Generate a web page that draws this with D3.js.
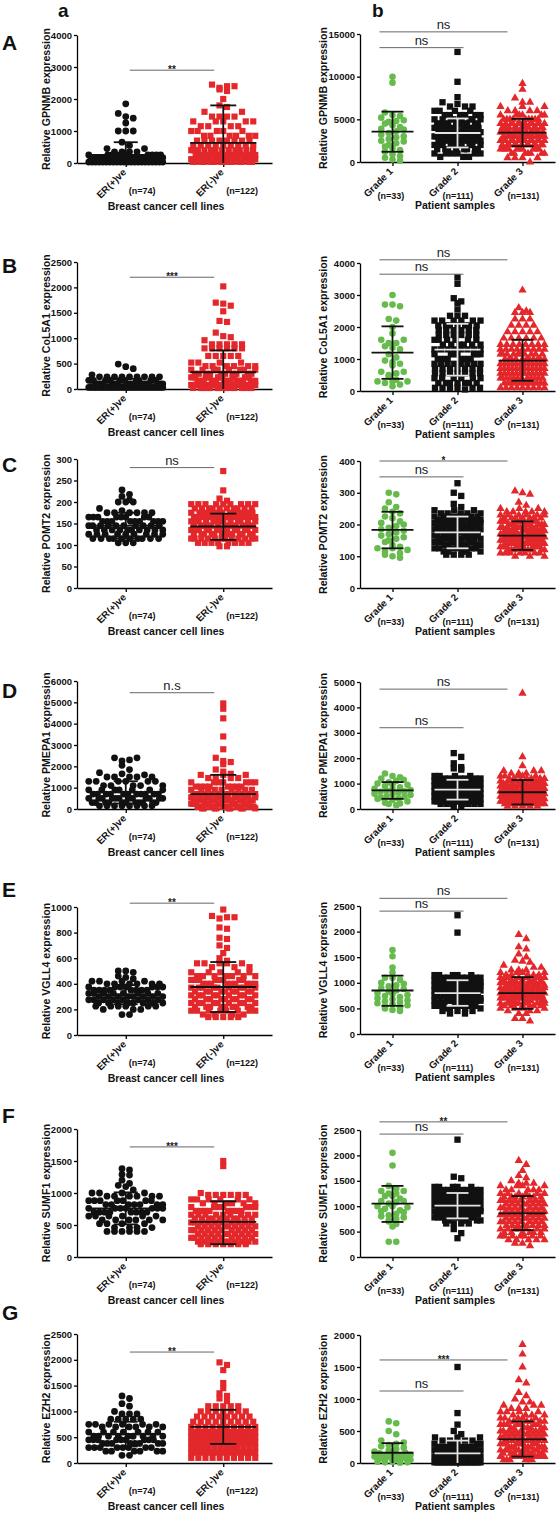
<!DOCTYPE html>
<html><head><meta charset="utf-8">
<script src="https://cdn.jsdelivr.net/npm/d3@7"></script>
<style>body{margin:0;background:#fff} svg{display:block} text{font-family:"Liberation Sans",Arial,sans-serif}</style>
</head><body>
<svg id="c" width="557" height="1528"></svg>
<script>
// ---------- categories & labels ----------
const leftCats = ["ER(+)ve", "ER(-)ve"];
const leftN = ["(n=74)", "(n=122)"];
const rightCats = ["Grade 1", "Grade 2", "Grade 3"];
const rightN = ["(n=33)", "(n=111)", "(n=131)"];
const genes = ["GPNMB", "CoL5A1", "POMT2", "PMEPA1", "VGLL4", "SUMF1", "EZH2"];
const rowLetters = ["A", "B", "C", "D", "E", "F", "G"];
const leftMax = [4000, 2500, 300, 6000, 1000, 2000, 2500];
const leftStep = [1000, 500, 50, 1000, 200, 500, 500];
const rightMax = [15000, 4000, 400, 5000, 2500, 2500, 2000];
const rightStep = [5000, 1000, 100, 1000, 500, 500, 500];

// ---------- data: [value, count] or single value ----------
const gpnmbErPos = [[1850,1],[1550,1],[1450,1],[1400,1],[1250,1],[1000,3],[650,1],[550,1],[450,2],[350,4],[250,10],[170,12],[100,14],[30,22]];
const gpnmbErNeg = [[2450,1],[2400,2],[2350,1],[2300,1],[2250,1],[2000,1],[1800,1],[1750,1],[1600,2],[1450,4],[1300,5],[1150,4],[1000,5],[850,6],[700,8],[550,9],[400,12],[250,18],[120,20],[40,20]];
const gpnmbG1 = [10000,9300,5800,5500,5400,5200,4900,4800,4700,4500,4300,4100,3900,3800,3600,3400,3200,3000,2900,2700,2500,2400,2200,2000,1800,1600,1400,1200,900,700,500,300,150];
const gpnmbG2 = [[12900,1],[9400,1],[7600,1],[7000,1],[6800,1],[6500,3],[6000,4],[5500,6],[5000,8],[4500,10],[4000,12],[3500,12],[3000,12],[2500,12],[2000,10],[1500,8],[1000,6],[600,3]];
const gpnmbG3 = [[9200,1],[8500,1],[7500,1],[7000,2],[6500,3],[6000,4],[5500,6],[5000,9],[4500,12],[4000,14],[3500,15],[3000,15],[2500,14],[2000,12],[1500,10],[1000,7],[500,4],[0,1]];

const col5a1ErPos = [[490,1],[440,1],[400,1],[280,1],[240,9],[170,14],[100,18],[30,29]];
const col5a1ErNeg = [[2020,1],[1700,1],[1680,1],[1640,1],[1530,1],[1340,1],[1320,1],[1110,1],[1040,1],[1020,1],[960,1],[880,5],[800,6],[650,5],[520,4],[450,6],[380,8],[300,10],[230,14],[160,18],[80,20],[20,15]];
const col5a1G1 = [3000,2700,2700,2650,2250,2200,2000,1800,1600,1600,1500,1500,1400,1350,1300,1150,1050,950,900,850,800,600,600,550,500,450,350,300,300,300,250,200,150];
const col5a1G2 = [[3550,1],[3350,1],[2900,1],[2800,1],[2750,1],[2550,1],[2350,3],[2200,6],[2050,7],[1900,6],[1750,6],[1600,6],[1450,6],[1300,8],[1150,7],[1000,8],[850,8],[700,7],[550,7],[400,6],[250,7],[100,6],[50,1]];
const col5a1G3 = [[3150,1],[2600,1],[2500,1],[2450,3],[2250,3],[2050,4],[1850,5],[1650,6],[1450,8],[1300,9],[1150,10],[1000,11],[850,12],[700,12],[550,12],[400,12],[250,12],[100,9]];

const pomt2ErPos = [[228,1],[218,1],[213,1],[205,1],[200,3],[185,1],[180,1],[175,6],[165,8],[155,9],[145,10],[135,10],[125,9],[115,10],[105,3]];
const pomt2ErNeg = [[272,1],[227,1],[208,1],[203,1],[195,9],[185,10],[175,11],[165,13],[155,13],[145,14],[135,13],[125,13],[115,12],[105,8],[97,2]];
const pomt2G1 = [300,295,270,255,250,240,235,225,220,210,205,200,195,190,185,180,175,170,165,160,155,150,145,135,130,125,125,120,115,110,105,100,95];
const pomt2G2 = [[330,1],[300,1],[290,1],[265,1],[255,1],[245,3],[235,5],[225,7],[215,9],[205,10],[195,9],[185,9],[175,9],[165,8],[155,8],[145,7],[135,7],[125,6],[115,5],[105,4]];
const pomt2G3 = [[305,1],[300,1],[295,1],[270,1],[260,1],[250,3],[240,5],[230,6],[220,7],[210,8],[200,9],[190,10],[180,11],[170,10],[160,10],[150,10],[140,10],[130,9],[120,8],[110,7],[100,3]];

const pmepa1ErPos = [[2400,2],[2300,1],[2250,1],[2050,1],[1850,1],[1700,1],[1650,1],[1600,1],[1500,5],[1300,6],[1100,5],[900,7],[700,11],[500,12],[300,11],[150,8]];
const pmepa1ErNeg = [[4950,1],[4700,1],[4250,1],[3400,1],[2800,1],[2400,1],[2250,1],[2200,1],[2100,1],[1850,1],[1750,1],[1650,1],[1600,3],[1450,4],[1250,7],[1050,8],[900,9],[700,11],[550,12],[400,14],[250,16],[100,17],[30,9]];
const pmepa1G1 = [1400,1300,1250,1200,1150,1100,1050,1000,950,950,900,850,800,780,750,720,700,680,650,600,580,550,500,480,450,420,400,350,300,250,220,200,150];
const pmepa1G2 = [[2200,1],[2050,1],[1800,1],[1650,1],[1600,1],[1550,1],[1300,4],[1200,6],[1100,8],[1000,9],[900,10],[800,10],[700,10],[600,10],[500,10],[400,10],[300,9],[200,7],[100,2]];
const pmepa1G3 = [[4550,1],[2050,1],[1700,1],[1500,3],[1400,3],[1300,5],[1200,6],[1100,7],[1000,9],[900,10],[800,11],[700,12],[600,12],[500,12],[400,12],[300,11],[200,10],[100,5]];

const vgll4ErPos = [[500,2],[490,1],[460,1],[450,1],[440,1],[420,4],[400,6],[375,7],[350,8],[325,8],[300,8],[275,8],[250,8],[225,6],[200,3],[160,2]];
const vgll4ErNeg = [[980,1],[930,1],[920,2],[910,1],[840,1],[830,1],[760,1],[750,1],[700,1],[680,1],[640,1],[600,1],[580,1],[560,5],[530,3],[490,5],[460,7],[430,8],[400,9],[370,9],[340,9],[310,9],[280,9],[250,9],[220,9],[190,8],[160,4],[140,5]];
const vgll4G1 = [1640,1520,1300,1200,1100,1100,1060,1000,980,950,930,900,880,850,830,800,780,760,740,720,700,680,660,640,620,600,580,560,540,520,500,470,450];
const vgll4G2 = [[2320,1],[1980,1],[1150,5],[1100,6],[1050,8],[1000,8],[950,9],[900,9],[850,9],[800,9],[750,8],[700,8],[650,8],[600,7],[550,6],[500,4],[450,3],[400,2]];
const vgll4G3 = [[1940,1],[1860,1],[1700,1],[1660,1],[1560,1],[1500,1],[1440,1],[1420,1],[1400,1],[1340,1],[1300,2],[1250,3],[1200,4],[1150,5],[1100,6],[1050,7],[1000,8],[950,8],[900,9],[850,9],[800,9],[750,9],[700,9],[650,8],[600,7],[550,6],[500,4],[450,3],[400,2],[300,2],[250,1]];

const sumf1ErPos = [[1380,1],[1360,1],[1290,1],[1280,1],[1200,1],[1150,1],[1120,1],[1100,1],[1050,1],[1000,4],[950,6],[880,7],[820,7],[760,7],[700,8],[640,6],[580,6],[520,4],[460,4],[400,6]];
const sumf1ErNeg = [[1500,1],[1420,1],[1000,1],[970,6],[900,6],[840,6],[780,7],[720,8],[660,9],[600,10],[540,10],[480,10],[420,10],[360,10],[300,10],[240,10],[200,7]];
const sumf1G1 = [2050,1800,1400,1350,1300,1300,1250,1250,1200,1200,1150,1100,1100,1080,1050,1000,1000,980,950,920,900,880,850,820,800,780,750,720,700,650,600,300,300];
const sumf1G2 = [[2310,1],[1580,1],[1550,1],[1380,5],[1320,6],[1260,8],[1200,9],[1140,10],[1080,10],[1020,10],[960,10],[900,10],[840,9],[780,8],[720,6],[660,4],[550,1],[470,1],[370,1]];
const sumf1G3 = [[1900,1],[1820,1],[1700,1],[1600,1],[1560,1],[1500,1],[1450,3],[1400,4],[1320,5],[1250,6],[1180,7],[1110,8],[1040,8],[970,8],[900,8],[830,8],[760,8],[690,8],[620,8],[550,7],[480,6],[410,7],[340,5],[270,2],[220,1]];

const ezh2ErPos = [[1300,1],[1250,1],[1150,1],[1100,1],[1000,1],[950,3],[850,5],[750,6],[700,6],[600,7],[520,9],[450,9],[380,8],[300,8],[230,6],[150,2]];
const ezh2ErNeg = [[1950,1],[1900,1],[1800,1],[1550,1],[1450,1],[1350,1],[1300,1],[1250,1],[1200,1],[1100,5],[1000,7],[900,8],[800,9],[700,10],[600,13],[500,13],[400,13],[300,12],[200,13],[100,10]];
const ezh2G1 = [650,620,500,450,350,320,300,280,260,240,220,200,180,170,160,150,140,130,120,110,100,90,80,70,60,50,40,30,20,20,10,10,5];
const ezh2G2 = [[1500,1],[780,1],[600,1],[500,1],[450,1],[400,3],[350,4],[300,6],[250,9],[200,12],[150,15],[100,18],[50,20],[10,19]];
const ezh2G3 = [[1850,1],[1700,1],[1500,1],[1300,1],[1250,1],[1100,1],[1050,1],[1000,1],[950,2],[900,3],[850,3],[800,4],[750,4],[700,5],[650,6],[600,7],[550,7],[500,8],[450,8],[400,8],[350,8],[300,8],[250,9],[200,9],[150,9],[100,9],[50,6]];

// ---------- mean, SD low, SD high ----------
const leftStats = [
  [[250,0,650],[630,0,1800]],
  [[90,0,200],[330,0,760]],
  [[145,115,175],[143,112,173]],
  [[780,260,1300],[700,0,1600]],
  [[315,240,390],[375,180,570]],
  [[760,510,1010],[550,200,870]],
  [[560,320,800],[700,370,1030]]
];
const rightStats = [
  [[3550,1200,5900],[3400,1700,5100],[3450,1850,5050]],
  [[1200,380,2020],[1290,480,2100],[950,320,1600]],
  [[183,125,240],[175,125,225],[165,120,210]],
  [[730,400,1060],[760,370,1150],[660,180,1140]],
  [[850,550,1140],[800,550,1050],[800,490,1110]],
  [[1050,690,1400],[1010,760,1260],[860,530,1200]],
  [[160,0,310],[150,0,350],[370,100,650]]
];
// significance: [fromIndex, toIndex, yValue, label]
const leftSig = [
  [[0,1,2900,"**"]], [[0,1,2200,"***"]], [[0,1,280,"ns"]], [[0,1,5450,"n.s"]],
  [[0,1,1030,"**"]], [[0,1,1720,"***"]], [[0,1,2150,"**"]]
];
const rightSig = [
  [[0,2,15250,"ns"],[0,1,13400,"ns"]],
  [[0,2,4100,"ns"],[0,1,3650,"ns"]],
  [[0,2,400,"*"],[0,1,350,"ns"]],
  [[0,2,4720,"ns"],[0,1,3200,"ns"]],
  [[0,2,2650,"ns"],[0,1,2400,"ns"]],
  [[0,2,2660,"**"],[0,1,2420,"ns"]],
  [[0,2,1610,"***"],[0,1,1125,"ns"]]
];
const leftData = [[gpnmbErPos,gpnmbErNeg],[col5a1ErPos,col5a1ErNeg],[pomt2ErPos,pomt2ErNeg],[pmepa1ErPos,pmepa1ErNeg],[vgll4ErPos,vgll4ErNeg],[sumf1ErPos,sumf1ErNeg],[ezh2ErPos,ezh2ErNeg]];
const rightData = [[gpnmbG1,gpnmbG2,gpnmbG3],[col5a1G1,col5a1G2,col5a1G3],[pomt2G1,pomt2G2,pomt2G3],[pmepa1G1,pmepa1G2,pmepa1G3],[vgll4G1,vgll4G2,vgll4G3],[sumf1G1,sumf1G2,sumf1G3],[ezh2G1,ezh2G2,ezh2G3]];

// ---------- layout ----------
const RED = "#e3272b", GREEN = "#66bb4c", BLK = "#111";
const leftX = [77, 272], rightX = [360, 555];
const leftTop = [35,262,459,681,907,1129,1334], leftBot = [163,389,588,809,1035,1257,1463];
const rightTop = [34,263,461,682,906,1130,1335], rightBot = [162,391,588,809,1034,1257,1463];
const letterY = [50,273,472,698,897,1123,1320];
const leftStyle = [
  {sym:d3.symbolCircle, size:36, fill:BLK, half:37, line:BLK, lineHalf:37, cap:12},
  {sym:d3.symbolSquare, size:38, fill:RED, half:32, line:BLK, lineHalf:33, cap:13}
];
const rightStyle = [
  {sym:d3.symbolCircle, size:34, fill:GREEN, half:18, line:BLK, lineHalf:21, cap:11},
  {sym:d3.symbolSquare, size:40, fill:BLK, half:23, line:"#e4e4e4", lineHalf:23, cap:11},
  {sym:d3.symbolTriangle, size:30, fill:RED, half:22, line:BLK, lineHalf:24, cap:11}
];

const svg = d3.select("#c");
const expand = arr => arr.flatMap(d => Array.isArray(d) ? d3.range(d[1]).map(() => d[0]) : [d]);
function gcd(a,b){ return b ? gcd(b, a % b) : a; }

function swarm(vals, y, cx, halfW, mk) {
  const pts = vals.map(v => ({v, py: y(v)})).sort((a,b) => a.py - b.py);
  const rows = []; let cur = null;
  for (const p of pts) {
    if (cur && p.py - cur.y0 < mk * 0.8) cur.items.push(p);
    else { cur = {y0: p.py, items: [p]}; rows.push(cur); }
  }
  rows.forEach(r => {
    const n = r.items.length;
    const s = n > 1 ? Math.min(mk + 1.5, 2 * halfW / (n - 1)) : 0;
    let stride = Math.max(1, Math.round(n * 0.38));
    while (n > 1 && gcd(stride, n) !== 1) stride++;
    r.items.forEach((p, i) => {
      const slot = n > 1 ? (i * stride) % n : 0;
      p.px = cx + (slot - (n - 1) / 2) * s;
    });
  });
  return pts;
}

function panel(o) {
  const x = d3.scalePoint().domain(o.cats).range(o.xr).padding(0.5);
  const y = d3.scaleLinear().domain([0, o.max]).range([o.bot, o.top]);
  const g = svg.append("g");
  // y axis
  const ya = g.append("g").attr("transform", `translate(${o.xr[0]},0)`)
    .call(d3.axisLeft(y).tickValues(d3.range(0, o.max + 1, o.step)).tickFormat(d3.format("d"))
      .tickSize(3).tickSizeOuter(0).tickPadding(2));
  ya.selectAll("path,line").attr("stroke", "#000").attr("stroke-width", 1.3);
  ya.selectAll("text").attr("font-size", 9.5).attr("font-weight", "bold").attr("fill", "#111")
    .attr("font-family", "Liberation Sans, Arial, sans-serif");
  // x axis
  const xa = g.append("g").attr("transform", `translate(0,${o.bot})`)
    .call(d3.axisBottom(x).tickSize(4).tickSizeOuter(0).tickFormat(""));
  xa.selectAll("path,line").attr("stroke", "#000").attr("stroke-width", 1.3);
  // category labels
  o.cats.forEach((c, i) => {
    const cx = x(c);
    g.append("text").attr("transform", `translate(${cx + 1},${o.bot + 10}) rotate(-45)`)
      .attr("text-anchor", "end").attr("font-size", 9.8).attr("font-weight", "bold").attr("fill", "#111").text(c);
    g.append("text").attr("x", cx + o.nDx).attr("y", o.bot + o.nDy)
      .attr("font-size", 9).attr("font-weight", "bold").attr("fill", "#111").text(o.nLabels[i]);
  });
  // axis titles
  g.append("text").attr("transform", `translate(${o.titleX},${(o.top + o.bot) / 2}) rotate(-90)`)
    .attr("text-anchor", "middle").attr("font-size", 10.6).attr("font-weight", "bold").attr("fill", "#111")
    .text(`Relative ${o.gene} expression`);
  g.append("text").attr("x", o.xTitleX).attr("y", o.bot + 47).attr("text-anchor", "middle")
    .attr("font-size", 10.5).attr("font-weight", "bold").attr("fill", "#111").text(o.xTitle);
  // points
  o.groups.forEach((grp, i) => {
    const st = o.style[i];
    const pts = swarm(expand(grp), y, x(o.cats[i]), st.half, 6);
    g.append("g").selectAll("path").data(pts).join("path")
      .attr("transform", p => `translate(${p.px},${p.py})`)
      .attr("d", d3.symbol().type(st.sym).size(st.size)())
      .attr("fill", st.fill);
  });
  // mean & SD
  o.stats.forEach((s, i) => {
    const st = o.style[i], cx = x(o.cats[i]);
    const [m, lo, hi] = s;
    const lg = g.append("g").attr("stroke", st.line).attr("stroke-width", 1.8).attr("fill", "none");
    lg.append("line").attr("x1", cx - st.lineHalf).attr("x2", cx + st.lineHalf).attr("y1", y(m)).attr("y2", y(m));
    lg.append("line").attr("x1", cx).attr("x2", cx).attr("y1", y(lo)).attr("y2", y(hi));
    lg.append("line").attr("x1", cx - st.cap).attr("x2", cx + st.cap).attr("y1", y(hi)).attr("y2", y(hi));
    if (lo > 0) lg.append("line").attr("x1", cx - st.cap).attr("x2", cx + st.cap).attr("y1", y(lo)).attr("y2", y(lo));
  });
  // significance bars
  o.sig.forEach(([a, b, v, lab]) => {
    const x1 = x(o.cats[a]) + o.sigOffA;
    const x2 = x(o.cats[b]) + (b === 2 ? -15 : o.sigOffB);
    const ly = y(v);
    g.append("line").attr("x1", x1).attr("x2", x2).attr("y1", ly).attr("y2", ly)
      .attr("stroke", "#666").attr("stroke-width", 1);
    const star = lab.includes("*");
    g.append("text").attr("x", (x1 + x2) / 2).attr("y", star ? ly + 3 : ly - 3)
      .attr("text-anchor", "middle").attr("font-size", star ? 10 : 13)
      .attr("font-weight", star ? "bold" : "normal").attr("fill", "#222").text(lab);
  });
}

genes.forEach((gene, r) => {
  panel({cats:leftCats, nLabels:leftN, xr:leftX, top:leftTop[r], bot:leftBot[r], max:leftMax[r], step:leftStep[r],
    groups:leftData[r], stats:leftStats[r], sig:leftSig[r], gene, style:leftStyle,
    xTitle:"Breast cancer cell lines", xTitleX:166, titleX:50, nDx:3, nDy:31, sigOffA:4, sigOffB:-9});
  panel({cats:rightCats, nLabels:rightN, xr:rightX, top:rightTop[r], bot:rightBot[r], max:rightMax[r], step:rightStep[r],
    groups:rightData[r], stats:rightStats[r], sig:rightSig[r], gene, style:rightStyle,
    xTitle:"Patient samples", xTitleX:455, titleX:327, nDx:-15, nDy:37, sigOffA:-13, sigOffB:6});
  svg.append("text").attr("x", 2).attr("y", letterY[r]).attr("font-size", 21).attr("font-weight", "bold")
    .attr("fill", "#111").text(rowLetters[r]);
});
svg.append("text").attr("x", 58).attr("y", 17).attr("font-size", 19).attr("font-weight", "bold").attr("fill", "#111").text("a");
svg.append("text").attr("x", 372).attr("y", 17).attr("font-size", 19).attr("font-weight", "bold").attr("fill", "#111").text("b");
</script>
</body></html>
